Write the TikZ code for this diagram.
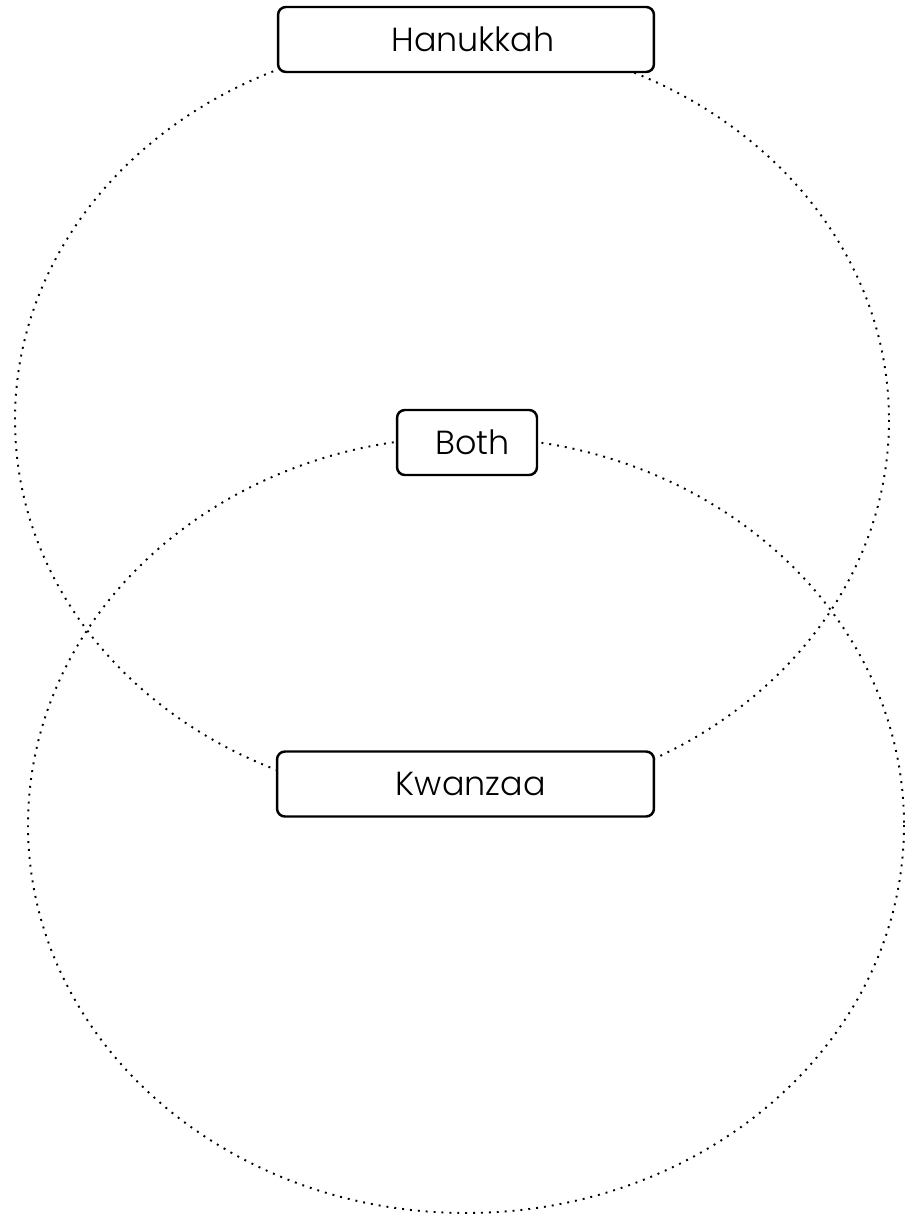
\documentclass[tikz,border=0pt]{standalone}
\usepackage{fontspec}
\setmainfont{Poppins}[UprightFont=* Light]
\usepackage{tikz}
\usetikzlibrary{positioning}

\begin{document}
\begin{tikzpicture}[
  x=0.02cm, y=-0.02cm,
  ring/.style={line width=1.1pt, dash pattern={on 1.1pt off 3.4pt}},
  label box/.style={draw,line width=1.4pt,rounded corners=4.5pt,fill=white,
    minimum height=1.3cm,inner sep=0pt,font=\fontsize{19}{22}\selectfont},
]
\useasboundingbox (0,0) rectangle (907,1216);
% the two sets
\draw[ring] (452,420) ellipse [x radius=437, y radius=382];
\draw[ring] (466,825) ellipse [x radius=438, y radius=388];
% titles
\node[label box,minimum width=7.52cm] (hanukkah) at (466,39.5) {\hspace{8pt}Hanukkah};
\node[label box,minimum width=2.8cm] (both) at (467,442.5) {\hspace{6pt}Both};
\node[label box,minimum width=7.54cm] (kwanzaa) at (465.5,784) {\hspace{6pt}Kwanzaa};
\end{tikzpicture}
\end{document}
